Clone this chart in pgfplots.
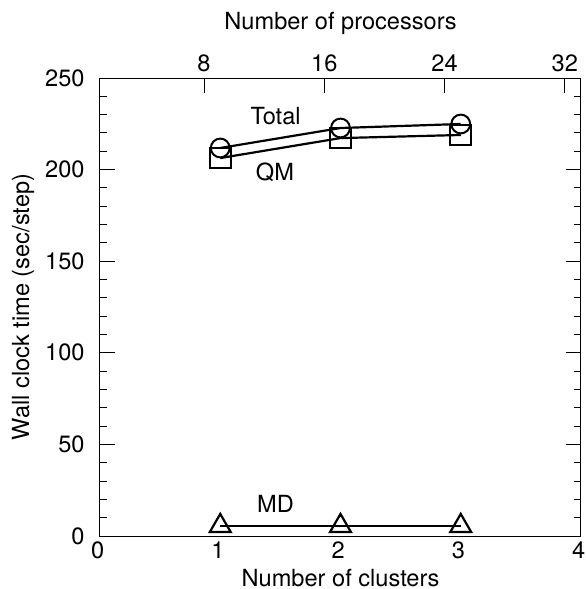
\documentclass[border=0pt]{standalone}
\usepackage{pgfplots}
\pgfplotsset{compat=1.18}
\usepackage{fontspec}
\setmainfont{TeX Gyre Heros}
\begin{document}
\fontsize{11.8}{14}\selectfont
\begin{tikzpicture}
\begin{axis}[
  name=main,
  scale only axis,
  width=240.5pt, height=229pt,
  xmin=0, xmax=4, ymin=0, ymax=250,
  xtick={0,1,2,3,4},
  ytick={0,50,100,150,200,250},
  minor y tick num=4,
  tick align=inside,
  xtick pos=bottom,
  ytick pos=both,
  x tick style={draw=none},
  y tick style={line width=0.5pt, black},
  major tick length=7.5pt,
  minor tick length=3.7pt,
  axis line style={line width=0.5pt},
  /pgf/number format/assume math mode=true,
  ticklabel style={font=\fontsize{11.8}{14}\selectfont},
  label style={font=\fontsize{11.8}{14}\selectfont},
  xticklabel style={anchor=center, yshift=-7pt, xshift=-1.2pt},
  yticklabel style={anchor=east, inner sep=0pt, xshift=-7.5pt},
  xlabel={Number of clusters},
  ylabel={Wall clock time (sec/step)},
  xlabel style={at={(axis description cs:0.5,-0.0917)}, anchor=center},
  ylabel style={at={(axis description cs:-0.16,0.5)}, anchor=center},
]
\addplot[black, line width=1.1pt, mark=o, mark size=4.7pt, mark options={fill=none, line width=1pt}]
  coordinates {(1,211.8) (2,222.7) (3,224.9)};
\addplot[black, line width=1.1pt, mark=square, mark size=5.2pt, mark options={fill=none, line width=1pt}]
  coordinates {(1,206.3) (2,217.2) (3,218.9)};
\addplot[black, line width=1.1pt, mark=triangle, mark size=6pt, mark options={fill=none, line width=1.1pt}]
  coordinates {(1,5.5) (2,5.5) (3,5.5)};
\node[font=\fontsize{11.8}{14}\selectfont] at (axis cs:1.46,229) {Total};
\node[font=\fontsize{11.8}{14}\selectfont] at (axis cs:1.455,198.4) {QM};
\node[font=\fontsize{11.8}{14}\selectfont] at (axis cs:1.46,17.7) {MD};
\end{axis}
\begin{axis}[
  scale only axis,
  width=240.5pt, height=229pt,
  at={(main.south west)}, anchor=south west,
  xmin=1.08, xmax=33.08, ymin=0, ymax=250,
  axis x line*=top,
  axis y line=none,
  xtick={8,16,24,32},
  tick align=inside,
  major tick length=7.5pt,
  x tick style={line width=0.5pt, black},
  axis line style={line width=0.5pt},
  /pgf/number format/assume math mode=true,
  ticklabel style={font=\fontsize{11.8}{14}\selectfont},
  label style={font=\fontsize{11.8}{14}\selectfont},
  xticklabel style={anchor=center, yshift=7.5pt},
  xlabel={Number of processors},
  xlabel style={at={(axis description cs:0.5,1.12)}, anchor=center},
]
\addplot[draw=none] coordinates {(8,0)};
\end{axis}
\pgfresetboundingbox
\path[use as bounding box] ([xshift=-50pt,yshift=-26.5pt]main.south west) rectangle ([xshift=2.5pt,yshift=39pt]main.north east);
\end{tikzpicture}
\end{document}
